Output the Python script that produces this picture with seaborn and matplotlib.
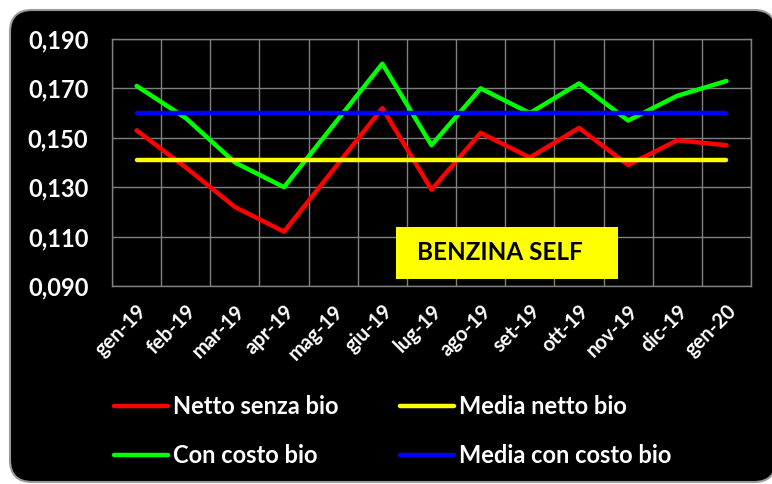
import numpy as np
import pandas as pd
import seaborn as sns
import matplotlib.pyplot as plt
from matplotlib.patches import FancyBboxPatch, Rectangle
from matplotlib.transforms import IdentityTransform
from matplotlib.ticker import FuncFormatter, FixedLocator

# data
months = ['gen-19', 'feb-19', 'mar-19', 'apr-19', 'mag-19', 'giu-19', 'lug-19',
          'ago-19', 'set-19', 'ott-19', 'nov-19', 'dic-19', 'gen-20']
netto_senza_bio = [0.153, 0.138, 0.122, 0.112, 0.137, 0.162, 0.129,
                   0.152, 0.142, 0.154, 0.139, 0.149, 0.147]
con_costo_bio = [0.171, 0.158, 0.140, 0.130, 0.155, 0.180, 0.147,
                 0.170, 0.160, 0.172, 0.157, 0.167, 0.173]
media_netto_bio = 0.141
media_con_costo_bio = 0.160
y_ticks = [0.090, 0.110, 0.130, 0.150, 0.170, 0.190]

df = pd.DataFrame({
    'pos': np.arange(len(months)),
    'Netto senza bio': netto_senza_bio,
    'Con costo bio': con_costo_bio,
    'Media netto bio': [media_netto_bio] * len(months),
    'Media con costo bio': [media_con_costo_bio] * len(months),
})

sns.set_style('dark')
plt.rcParams['font.family'] = ['Lato', 'DejaVu Sans']
plt.rcParams['font.weight'] = 'bold'

fig = plt.figure(figsize=(7.72, 4.84), dpi=100)
fig.patch.set_facecolor('white')

# black rounded panel behind everything
panel = FancyBboxPatch((10, 2), 766, 472, boxstyle='round,pad=0,rounding_size=22',
                       transform=IdentityTransform(), facecolor='black',
                       edgecolor='#9a9a9a', linewidth=1.5, zorder=-1)
fig.patches.append(panel)

ax = fig.add_axes([112 / 772, 198 / 484, 639 / 772, 247 / 484])
ax.set_zorder(1)
ax.set_facecolor('black')

colors = {'Netto senza bio': '#ff0000', 'Con costo bio': '#00ff00',
          'Media netto bio': '#ffff00', 'Media con costo bio': '#0000ff'}
for name in ['Netto senza bio', 'Con costo bio', 'Media netto bio', 'Media con costo bio']:
    sns.lineplot(data=df, x='pos', y=name, ax=ax, color=colors[name],
                 linewidth=3.2, label=name, legend=False, zorder=3)

ax.set_xlim(-0.5, len(months) - 0.5)
ax.set_ylim(y_ticks[0], y_ticks[-1])
ax.set_xlabel('')
ax.set_ylabel('')

# gridlines on category boundaries, labels at category centers
ax.xaxis.set_major_locator(FixedLocator(np.arange(len(months) + 1) - 0.5))
ax.xaxis.set_minor_locator(FixedLocator(np.arange(len(months))))
ax.set_xticklabels([], minor=False)
ax.set_xticklabels(months, minor=True, rotation=45, ha='right',
                   rotation_mode='anchor', color='white', fontsize=14.5,
                   fontweight='bold')
ax.tick_params(axis='x', which='major', length=6, width=1, color='#808080', direction='out')
ax.tick_params(axis='x', which='minor', length=0, pad=11)

ax.set_yticks(y_ticks)
ax.yaxis.set_major_formatter(FuncFormatter(lambda v, p: f'{v:.3f}'.replace('.', ',')))
ax.tick_params(axis='y', length=7, width=1, color='#808080', direction='out',
               labelcolor='white', labelsize=17, pad=10)
for lab in ax.get_yticklabels():
    lab.set_fontweight('bold')

ax.grid(True, which='major', color='#808080', linewidth=1)
for sp in ax.spines.values():
    sp.set_visible(True)
    sp.set_color('#808080')
    sp.set_linewidth(1)

# BENZINA SELF box
ax.add_patch(Rectangle((0.444, 0.028), 0.348, 0.211, transform=ax.transAxes,
                       facecolor='#ffff00', edgecolor='none', zorder=4))
ax.text(0.477, 0.134, 'BENZINA SELF', transform=ax.transAxes, ha='left',
        va='center', fontsize=17.5, fontweight='bold', color='black', zorder=5)

handles, labels = ax.get_legend_handles_labels()
leg = fig.legend(handles, labels, ncol=2, loc='upper left',
                 bbox_to_anchor=(114 / 772, 1 - 395 / 484), frameon=False,
                 borderaxespad=0, borderpad=0, handlelength=2.3, handletextpad=0.2,
                 columnspacing=2.6, labelspacing=1.1,
                 prop={'size': 17, 'weight': 'bold'})
for t in leg.get_texts():
    t.set_color('white')

fig.savefig('out.png', dpi=100, facecolor='white')
